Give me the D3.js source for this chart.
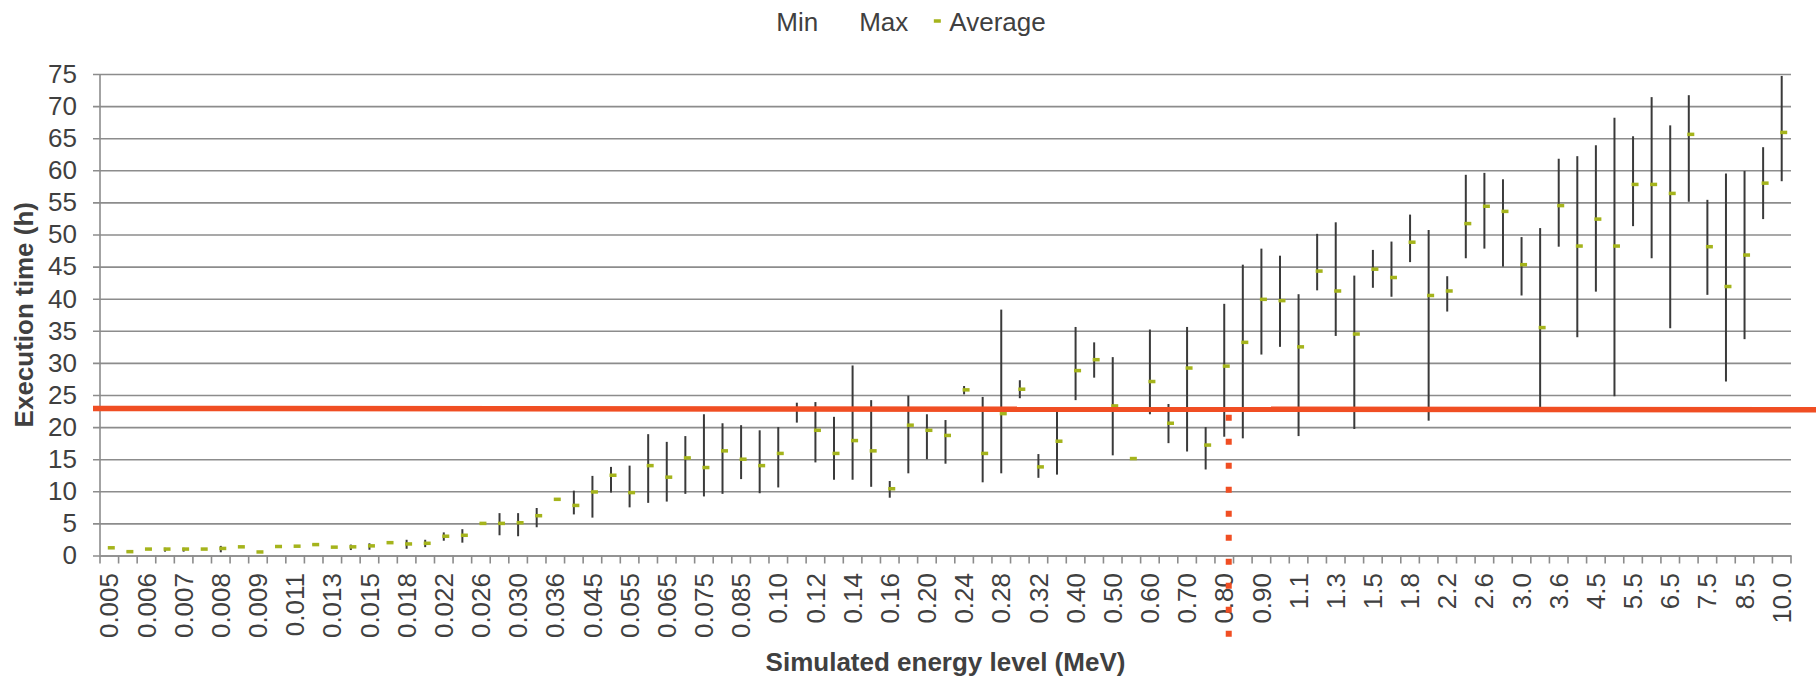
<!DOCTYPE html>
<html>
<head>
<meta charset="utf-8">
<script src="https://cdn.jsdelivr.net/npm/d3@7"></script>
<style>
    body { margin: 0; background: #fff; }
    text { font-family: "Liberation Sans", Arial, sans-serif; fill: #404040; }
</style>
</head>
<body>
<div id="chart"></div>
<script>
// energy levels (MeV), only every other one is labelled on the axis
var energy = ["0.005", "0.0055", "0.006", "0.0065", "0.007", "0.0075", "0.008", "0.0085", "0.009", "0.010",
    "0.011", "0.012", "0.013", "0.014", "0.015", "0.016", "0.018", "0.020", "0.022", "0.024",
    "0.026", "0.028", "0.030", "0.033", "0.036", "0.040", "0.045", "0.050", "0.055", "0.060",
    "0.065", "0.070", "0.075", "0.080", "0.085", "0.090", "0.10", "0.11", "0.12", "0.13",
    "0.14", "0.15", "0.16", "0.18", "0.20", "0.22", "0.24", "0.26", "0.28", "0.30",
    "0.32", "0.36", "0.40", "0.45", "0.50", "0.55", "0.60", "0.65", "0.70", "0.75",
    "0.80", "0.85", "0.90", "1.0", "1.1", "1.2", "1.3", "1.4", "1.5", "1.6",
    "1.8", "2.0", "2.2", "2.4", "2.6", "2.8", "3.0", "3.3", "3.6", "4.0",
    "4.5", "5.0", "5.5", "6.0", "6.5", "7.0", "7.5", "8.0", "8.5", "9.0", "10.0"];

var minTime = [1.1, 0.5, 0.9, 0.6, 0.6, 0.9, 0.5, 1.25, 0.45, 1.3,
    1.35, 1.6, 1.2, 0.85, 0.9, 1.9, 1.05, 1.3, 2.3, 2.0,
    4.9, 3.15, 3.0, 4.4, 8.65, 6.4, 5.9, 9.8, 7.5, 8.2,
    8.4, 9.6, 9.2, 9.6, 11.9, 9.7, 10.6, 20.7, 14.5, 11.8,
    11.8, 10.7, 9.0, 12.8, 15.0, 14.3, 25.1, 11.4, 12.8, 24.5,
    12.1, 12.6, 24.2, 27.7, 15.6, 15.0, 22.0, 17.5, 16.2, 13.4,
    18.5, 18.25, 31.3, 32.5, 18.6, 41.3, 34.2, 19.7, 41.7, 40.3,
    45.7, 21.0, 38.0, 46.3, 47.8, 45.0, 40.5, 23.1, 48.1, 34.0,
    41.1, 24.8, 51.3, 46.3, 35.4, 55.1, 40.6, 27.1, 33.7, 52.4, 58.3];

var maxTime = [1.3, 0.7, 1.1, 1.2, 1.2, 1.1, 1.5, 1.45, 0.65, 1.5,
    1.55, 1.8, 1.4, 1.7, 1.9, 2.1, 2.45, 2.45, 3.6, 4.1,
    5.1, 6.6, 6.6, 7.4, 8.85, 10.1, 12.4, 13.8, 14.0, 18.9,
    17.7, 18.6, 22.0, 20.6, 20.3, 19.5, 20.0, 23.8, 23.9, 21.6,
    29.6, 24.2, 11.6, 24.9, 22.0, 21.1, 26.4, 24.7, 38.3, 27.3,
    15.8, 22.9, 35.6, 33.2, 30.9, 15.2, 35.2, 23.6, 35.6, 20.0,
    39.2, 45.3, 47.8, 46.7, 40.7, 50.1, 51.9, 43.6, 47.6, 48.9,
    53.1, 50.7, 43.5, 59.3, 59.6, 58.6, 49.6, 51.0, 61.8, 62.2,
    63.9, 68.2, 65.3, 71.4, 67.0, 71.7, 55.4, 59.5, 59.9, 63.6, 74.7];

var avgTime = [1.2, 0.6, 1.0, 1.0, 1.0, 1.0, 1.1, 1.35, 0.55, 1.4,
    1.45, 1.7, 1.3, 1.35, 1.5, 2.0, 1.8, 1.9, 3.0, 3.15,
    5.0, 5.0, 5.1, 6.2, 8.75, 7.8, 9.9, 12.5, 9.8, 14.0,
    12.2, 15.2, 13.7, 16.3, 15.0, 14.0, 15.9, 22.8, 19.5, 15.9,
    17.9, 16.3, 10.4, 20.3, 19.5, 18.7, 25.8, 15.9, 22.1, 25.9,
    13.8, 17.8, 28.8, 30.5, 23.3, 15.1, 27.1, 20.6, 29.2, 17.2,
    29.5, 33.2, 39.9, 39.7, 32.5, 44.3, 41.2, 34.5, 44.6, 43.3,
    48.8, 40.5, 41.2, 51.7, 54.4, 53.6, 45.3, 35.5, 54.5, 48.2,
    52.4, 48.2, 57.8, 57.8, 56.4, 65.6, 48.1, 41.9, 46.8, 58.0, 65.9];

var yTicks = [0, 5, 10, 15, 20, 25, 30, 35, 40, 45, 50, 55, 60, 65, 70, 75];
var seriesNames = ["Min", "Max", "Average"];

// red annotations: time limit (drifts slightly) and cut-off energy
var limitStart = 22.9, limitEnd = 22.7;
var cutoffEnergy = "0.80";

var width = 1816, height = 678;
var margin = { top: 74, right: 25, bottom: 122.5, left: 100 };

var svg = d3.select("#chart")
    .append("svg")
    .attr("width", width)
    .attr("height", height);

var x = d3.scaleBand()
    .domain(energy)
    .range([margin.left, width - margin.right])
    .padding(0);

var y = d3.scaleLinear()
    .domain([0, 75])
    .range([height - margin.bottom, margin.top]);

var rows = energy.map((e, i) => ({ e: e, min: minTime[i], max: maxTime[i], avg: avgTime[i] }));

var gray = "#8c8c8c";
var x0 = x.range()[0], x1 = x.range()[1];

// horizontal grid + y labels (ticks stick out 7px left of the axis)
var yAxis = d3.axisLeft(y)
    .tickValues(yTicks)
    .tickSize(x1 - x0 + 7)
    .tickPadding(16);

var gy = svg.append("g")
    .attr("transform", "translate(" + x1 + ",0)")
    .call(yAxis);
gy.select(".domain").remove();
gy.selectAll("line").attr("stroke", gray).attr("stroke-width", 1.6);
gy.selectAll("text").style("font-size", "26px").attr("fill", "#404040");

// y axis line
svg.append("line")
    .attr("x1", x0).attr("x2", x0)
    .attr("y1", y(75)).attr("y2", y(0))
    .attr("stroke", gray).attr("stroke-width", 1.6);

// x axis: ticks at every band edge
var edges = energy.map(e => x(e)).concat([x1]);
svg.append("g")
    .selectAll("line")
    .data(edges)
    .enter()
    .append("line")
    .attr("x1", d => d).attr("x2", d => d)
    .attr("y1", y(0)).attr("y2", y(0) + 8)
    .attr("stroke", gray).attr("stroke-width", 1.6);

var xAxis = d3.axisBottom(x)
    .tickValues(energy.filter((e, i) => i % 2 == 0))
    .tickSize(0);

var gx = svg.append("g")
    .attr("transform", "translate(0," + y(0) + ")")
    .call(xAxis);
gx.select(".domain").attr("stroke", gray).attr("stroke-width", 1.6);
gx.selectAll("text")
    .style("font-size", "26px")
    .attr("fill", "#404040")
    .attr("y", 0)
    .attr("x", -17.5)
    .attr("dy", "0.35em")
    .attr("transform", "rotate(-90)")
    .style("text-anchor", "end");

// min-max bars
svg.append("g")
    .selectAll("line")
    .data(rows)
    .enter()
    .append("line")
    .attr("x1", d => x(d.e) + x.bandwidth() / 2)
    .attr("x2", d => x(d.e) + x.bandwidth() / 2)
    .attr("y1", d => y(d.min))
    .attr("y2", d => y(d.max))
    .attr("stroke", "#3a3a3a")
    .attr("stroke-width", 2);

// average markers (little dashes)
var green = "#a5b41c";
svg.append("g")
    .selectAll("rect")
    .data(rows)
    .enter()
    .append("rect")
    .attr("x", d => x(d.e) + x.bandwidth() / 2 - 1.5)
    .attr("y", d => y(d.avg) - 1.75)
    .attr("width", 7)
    .attr("height", 3.5)
    .attr("fill", green);

// red limit line
svg.append("line")
    .attr("x1", x0 - 7).attr("x2", width)
    .attr("y1", y(limitStart)).attr("y2", y(limitEnd))
    .attr("stroke", "#f04e23")
    .attr("stroke-width", 5.5);

// red dotted cut-off
var cx = x(cutoffEnergy) + x.bandwidth() / 2 + 4.5;
svg.append("line")
    .attr("x1", cx).attr("x2", cx)
    .attr("y1", y(limitEnd) + 5)
    .attr("y2", height - 40)
    .attr("stroke", "#f04e23")
    .attr("stroke-width", 6)
    .attr("stroke-dasharray", "6,18");

// axis titles
svg.append("text")
    .attr("transform", "translate(24," + ((y(0) + y(75)) / 2) + ") rotate(-90)")
    .attr("text-anchor", "middle")
    .attr("dy", "0.35em")
    .style("font-size", "26px")
    .style("font-weight", "bold")
    .text("Execution time (h)");

svg.append("text")
    .attr("x", (x0 + x1) / 2)
    .attr("y", 671)
    .attr("text-anchor", "middle")
    .style("font-size", "26px")
    .style("font-weight", "bold")
    .text("Simulated energy level (MeV)");

// legend
var legend = svg.append("g").attr("id", "legend");
var lx = 0;
seriesNames.forEach((name, i) => {
    var item = legend.append("g").attr("transform", "translate(" + lx + ",0)");
    if (name == "Average") {
        item.append("rect")
            .attr("x", -3.5).attr("y", 21 - 1.75)
            .attr("width", 7).attr("height", 3.5)
            .attr("fill", green);
    }
    var t = item.append("text")
        .attr("x", 12)
        .attr("y", 31)
        .style("font-size", "26px")
        .text(name);
    lx += 12 + t.node().getComputedTextLength() + 29;
});
var lw = lx - 29;
legend.attr("transform", "translate(" + (width / 2 - lw / 2 - 3) + ",0)");
</script>
</body>
</html>
